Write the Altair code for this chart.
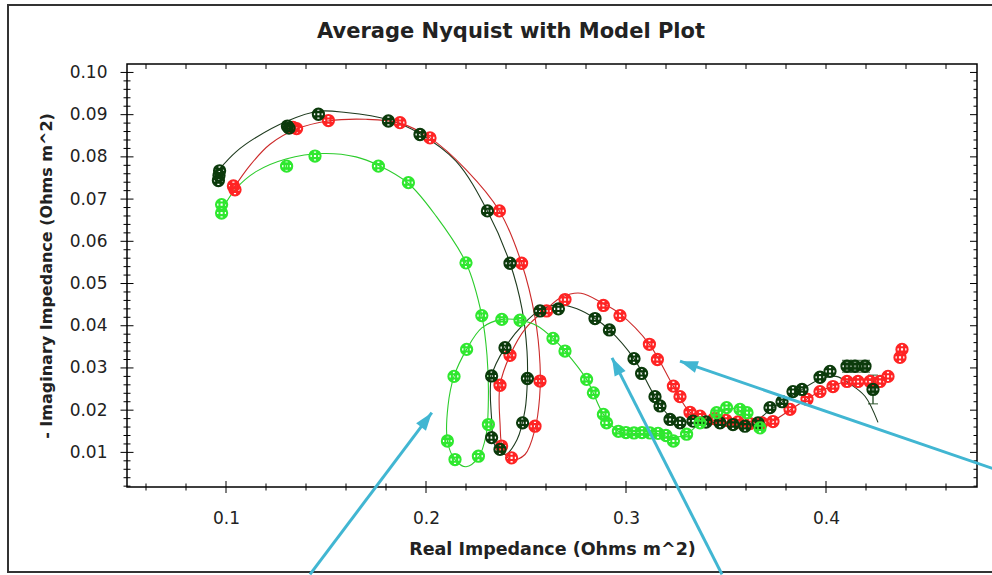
import altair as alt
import pandas as pd

# ---------------- data ----------------
# dark green measured points
dg_x = [0.0962, 0.0965, 0.0968, 0.1307, 0.1315, 0.1462, 0.1812, 0.1970, 0.2307, 0.2420,
        0.2507, 0.2483, 0.2370, 0.2328, 0.2328, 0.2395, 0.2570, 0.2662, 0.2845, 0.2917,
        0.3040, 0.3078, 0.3145, 0.3170, 0.3220, 0.3270, 0.3335, 0.3400, 0.3470, 0.3535,
        0.3595, 0.3660, 0.3720, 0.3780, 0.3835, 0.3880, 0.3970, 0.4020, 0.4105, 0.4145,
        0.4195, 0.4235]
dg_y = [0.0744, 0.0756, 0.0767, 0.0873, 0.0868, 0.0901, 0.0885, 0.0853, 0.0672, 0.0548,
        0.0275, 0.0170, 0.0107, 0.0135, 0.0281, 0.0348, 0.0435, 0.0440, 0.0417, 0.0390,
        0.0322, 0.0287, 0.0232, 0.0210, 0.0178, 0.0170, 0.0174, 0.0172, 0.0170, 0.0166,
        0.0162, 0.0170, 0.0206, 0.0220, 0.0244, 0.0249, 0.0278, 0.0292, 0.0304, 0.0304,
        0.0304, 0.0249]
# red measured points
rd_x = [0.1037, 0.1045, 0.1335, 0.1353, 0.1512, 0.1870, 0.2020, 0.2367, 0.2478, 0.2570,
        0.2545, 0.2428, 0.2378, 0.2370, 0.2420, 0.2603, 0.2695, 0.2887, 0.2970, 0.3117,
        0.3157, 0.3237, 0.3270, 0.3320, 0.3370, 0.3440, 0.3500, 0.3560, 0.3620, 0.3680,
        0.3735, 0.3820, 0.3905, 0.3970, 0.4035, 0.4105, 0.4160, 0.4220, 0.4270, 0.4310,
        0.4370, 0.4380]
rd_y = [0.0731, 0.0722, 0.0870, 0.0867, 0.0886, 0.0881, 0.0845, 0.0672, 0.0548, 0.0269,
        0.0162, 0.0087, 0.0115, 0.0259, 0.0330, 0.0435, 0.0462, 0.0448, 0.0424, 0.0356,
        0.0320, 0.0257, 0.0232, 0.0195, 0.0186, 0.0180, 0.0176, 0.0172, 0.0168, 0.0170,
        0.0173, 0.0202, 0.0226, 0.0244, 0.0256, 0.0268, 0.0268, 0.0268, 0.0268, 0.0280,
        0.0325, 0.0344]
# bright green measured points
gr_x = [0.0978, 0.0978, 0.1303, 0.1445, 0.1762, 0.1912, 0.2200, 0.2279, 0.2312, 0.2262,
        0.2145, 0.2107, 0.2140, 0.2203, 0.2379, 0.2470, 0.2635, 0.2695, 0.2803, 0.2837,
        0.2887, 0.2903, 0.2962, 0.3000, 0.3040, 0.3080, 0.3120, 0.3160, 0.3200, 0.3237,
        0.3303, 0.3370, 0.3453, 0.3503, 0.3570, 0.3605, 0.3670]
gr_y = [0.0687, 0.0667, 0.0778, 0.0802, 0.0778, 0.0739, 0.0549, 0.0424, 0.0166, 0.0091,
        0.0083, 0.0127, 0.0280, 0.0344, 0.0415, 0.0413, 0.0370, 0.0340, 0.0273, 0.0241,
        0.0190, 0.0170, 0.0150, 0.0147, 0.0146, 0.0147, 0.0146, 0.0145, 0.0140, 0.0127,
        0.0143, 0.0170, 0.0194, 0.0206, 0.0202, 0.0194, 0.0158]

# model curves
dgm_x = [0.0965, 0.1050, 0.1150, 0.1307, 0.1460, 0.1600, 0.1812, 0.1970, 0.2150, 0.2307,
         0.2420, 0.2480, 0.2505, 0.2507, 0.2495, 0.2455, 0.2395, 0.2345, 0.2328, 0.2328,
         0.2395, 0.2490, 0.2570, 0.2662, 0.2755, 0.2845, 0.2917, 0.3040, 0.3145, 0.3220,
         0.3300, 0.3400, 0.3530, 0.3620, 0.3720, 0.3850, 0.3970, 0.4050, 0.4120, 0.4195,
         0.4260]
dgm_y = [0.0770, 0.0812, 0.0846, 0.0885, 0.0908, 0.0905, 0.0888, 0.0855, 0.0790, 0.0672,
         0.0548, 0.0440, 0.0340, 0.0275, 0.0200, 0.0130, 0.0095, 0.0115, 0.0180, 0.0281,
         0.0348, 0.0405, 0.0437, 0.0450, 0.0440, 0.0417, 0.0390, 0.0322, 0.0232, 0.0185,
         0.0172, 0.0172, 0.0167, 0.0165, 0.0200, 0.0240, 0.0273, 0.0280, 0.0262, 0.0233,
         0.0171]
rdm_x = [0.1037, 0.1120, 0.1220, 0.1353, 0.1510, 0.1700, 0.1870, 0.2020, 0.2200, 0.2367,
         0.2478, 0.2545, 0.2570, 0.2568, 0.2545, 0.2495, 0.2428, 0.2385, 0.2370, 0.2370,
         0.2420, 0.2500, 0.2603, 0.2680, 0.2775, 0.2887, 0.2970, 0.3117, 0.3237, 0.3320,
         0.3400, 0.3550, 0.3650, 0.3735, 0.3850, 0.3970, 0.4100, 0.4200, 0.4280]
rdm_y = [0.0725, 0.0780, 0.0830, 0.0866, 0.0885, 0.0889, 0.0880, 0.0845, 0.0770, 0.0672,
         0.0548, 0.0420, 0.0310, 0.0230, 0.0155, 0.0095, 0.0082, 0.0105, 0.0170, 0.0259,
         0.0330, 0.0395, 0.0440, 0.0468, 0.0477, 0.0452, 0.0428, 0.0356, 0.0257, 0.0195,
         0.0180, 0.0168, 0.0165, 0.0175, 0.0210, 0.0244, 0.0268, 0.0272, 0.0262]
grm_x = [0.0985, 0.1050, 0.1150, 0.1300, 0.1485, 0.1650, 0.1762, 0.1912, 0.2050, 0.2200,
         0.2279, 0.2305, 0.2312, 0.2300, 0.2262, 0.2200, 0.2145, 0.2107, 0.2110, 0.2140,
         0.2203, 0.2279, 0.2379, 0.2470, 0.2555, 0.2635, 0.2695, 0.2803, 0.2887, 0.2962,
         0.3050, 0.3150, 0.3237, 0.3303, 0.3370, 0.3453, 0.3503, 0.3570, 0.3670]
grm_y = [0.0680, 0.0725, 0.0765, 0.0795, 0.0808, 0.0800, 0.0780, 0.0737, 0.0660, 0.0549,
         0.0424, 0.0330, 0.0230, 0.0140, 0.0088, 0.0066, 0.0083, 0.0127, 0.0210, 0.0280,
         0.0344, 0.0395, 0.0415, 0.0413, 0.0400, 0.0370, 0.0340, 0.0273, 0.0190, 0.0150,
         0.0145, 0.0145, 0.0135, 0.0143, 0.0170, 0.0194, 0.0204, 0.0200, 0.0160]

# error bars
err_x = [0.1303, 0.4105, 0.4145, 0.4195, 0.4235]
err_lo = [0.0770, 0.0290, 0.0290, 0.0290, 0.0215]
err_hi = [0.0786, 0.0318, 0.0318, 0.0318, 0.0283]
err_series = ["green", "dark", "dark", "dark", "dark"]

# axis ticks
x_major = [0.1, 0.2, 0.3, 0.4]
x_minor = [0.06, 0.08, 0.12, 0.14, 0.16, 0.18, 0.22, 0.24, 0.26, 0.28, 0.32, 0.34,
           0.36, 0.38, 0.42, 0.44, 0.46]
y_major = [0.01, 0.02, 0.03, 0.04, 0.05, 0.06, 0.07, 0.08, 0.09, 0.10]
y_minor = [round(0.002 * i, 3) for i in range(1, 51) if i % 5]

# cyan annotation arrows (start -> tip, in data units)
arr_x0 = [0.142, 0.348, 0.4845]
arr_y0 = [-0.0189, -0.0189, 0.0060]
arr_x1 = [0.2029, 0.293, 0.327]
arr_y1 = [0.0194, 0.0324, 0.0316]
arr_angle = [37, 333, 289]

# ---------------- styling ----------------
W, H = 850, 423
COL = {"dark": "#0b3a0b", "red": "#ff2424", "green": "#2fe82f"}
LINE = {"dark": "#1e3a1e", "red": "#cc2a2a", "green": "#2ccc2c"}
CYAN = "#41b6d2"
TXT = "#222222"

XS = alt.Scale(domain=[0.0505, 0.4755], nice=False, zero=False)
YS = alt.Scale(domain=[0.0018, 0.1020], nice=False, zero=False)

x_axis = alt.Axis(title="Real Impedance (Ohms m^2)", values=x_major, format=".1f",
                  labelFont="DejaVu Sans", labelFontSize=17, labelColor=TXT,
                  labelPadding=23, ticks=False, domain=False, grid=False,
                  titleFont="DejaVu Sans", titleFontSize=17.5, titleFontWeight="bold",
                  titleColor=TXT, titlePadding=14)
y_axis = alt.Axis(title="-   Imaginary Impedance (Ohms m^2)", values=y_major, format=".2f",
                  labelFont="DejaVu Sans", labelFontSize=17, labelColor=TXT,
                  labelPadding=20, ticks=False, domain=False, grid=False,
                  titleFont="DejaVu Sans", titleFontSize=16, titleFontWeight="bold",
                  titleColor=TXT, titlePadding=15)


def X(field):
    return alt.X(field, type="quantitative", scale=XS, axis=x_axis)


def Y(field):
    return alt.Y(field, type="quantitative", scale=YS, axis=y_axis)


MARK = ("M-1,0A1,1,0,1,0,1,0A1,1,0,1,0,-1,0"
        "M-0.38,-1V1M0.38,-1V1M-1,-0.38H1M-1,0.38H1")
HEAD = "M0,0L-0.55,1.6L0.55,1.6Z"

layers = []

# outer frame of the figure
frame = alt.Chart(pd.DataFrame({"k": [0]})).mark_rect(
    filled=False, stroke="#333333", strokeWidth=2
).encode(x=alt.value(-119), x2=alt.value(W + 40), y=alt.value(-59), y2=alt.value(H + 85))
layers.append(frame)

# ticks
def xticks(vals, a, b):
    return alt.Chart(pd.DataFrame({"x": vals})).mark_rule(color="black", strokeWidth=1).encode(
        x=X("x"), y=alt.value(a), y2=alt.value(b))


def yticks(vals, a, b):
    return alt.Chart(pd.DataFrame({"y": vals})).mark_rule(color="black", strokeWidth=1).encode(
        y=Y("y"), x=alt.value(a), x2=alt.value(b))


layers += [
    xticks(x_minor, H - 3.5, H + 3.5),
    xticks(x_major, H - 6, H + 6),
    xticks(x_minor + x_major, 0, 5),
    yticks(y_minor, -3.5, 3.5),
    yticks(y_major, -6.5, 6.5),
    yticks(y_minor, W - 3.5, W),
    yticks(y_major, W - 7, W),
]

# model lines
for mx, my, key in [(dgm_x, dgm_y, "dark"), (rdm_x, rdm_y, "red"), (grm_x, grm_y, "green")]:
    df = pd.DataFrame({"x": mx, "y": my, "i": list(range(len(mx)))})
    layers.append(
        alt.Chart(df).mark_line(color=LINE[key], strokeWidth=1.1, interpolate="catmull-rom")
        .encode(x=X("x"), y=Y("y"), order=alt.Order("i:Q"))
    )

# error bars
edf = pd.DataFrame({"x": err_x, "lo": err_lo, "hi": err_hi,
                    "c": [COL[s] for s in err_series]})
layers.append(alt.Chart(edf).mark_rule(strokeWidth=1.2).encode(
    x=X("x"), y=Y("lo"), y2="hi", color=alt.Color("c:N", scale=None)))
for fld in ["lo", "hi"]:
    layers.append(alt.Chart(edf).mark_tick(orient="horizontal", size=10, thickness=1.2).encode(
        x=X("x"), y=Y(fld), color=alt.Color("c:N", scale=None)))

# markers
for px, py, key in [(rd_x, rd_y, "red"), (dg_x, dg_y, "dark"), (gr_x, gr_y, "green")]:
    df = pd.DataFrame({"x": px, "y": py})
    layers.append(
        alt.Chart(df).mark_point(shape=MARK, size=125, filled=False, strokeWidth=2.1,
                                 color=COL[key], opacity=1)
        .encode(x=X("x"), y=Y("y"))
    )

# arrows
adf = pd.DataFrame({"x0": arr_x0, "y0": arr_y0, "x1": arr_x1, "y1": arr_y1, "a": arr_angle})
layers.append(alt.Chart(adf).mark_rule(color=CYAN, strokeWidth=3).encode(
    x=X("x0"), y=Y("y0"), x2="x1", y2="y1"))
layers.append(alt.Chart(adf).mark_point(shape=HEAD, size=500, filled=True, color=CYAN,
                                         opacity=1).encode(
    x=X("x1"), y=Y("y1"), angle=alt.Angle("a:Q", scale=None)))

chart = alt.layer(*layers).properties(
    width=W, height=H,
    autosize="none",
    padding={"left": 127, "top": 64, "right": 15, "bottom": 88},
    title=alt.TitleParams("Average Nyquist with Model Plot", font="DejaVu Sans", fontSize=21,
                          fontWeight="bold", color=TXT, anchor="middle", frame="group",
                          dx=-41, dy=38, offset=0),
    background="white",
).configure_view(stroke="black", strokeWidth=1.5)

chart.save("out.html", embed_options={"renderer": "svg", "actions": False})
